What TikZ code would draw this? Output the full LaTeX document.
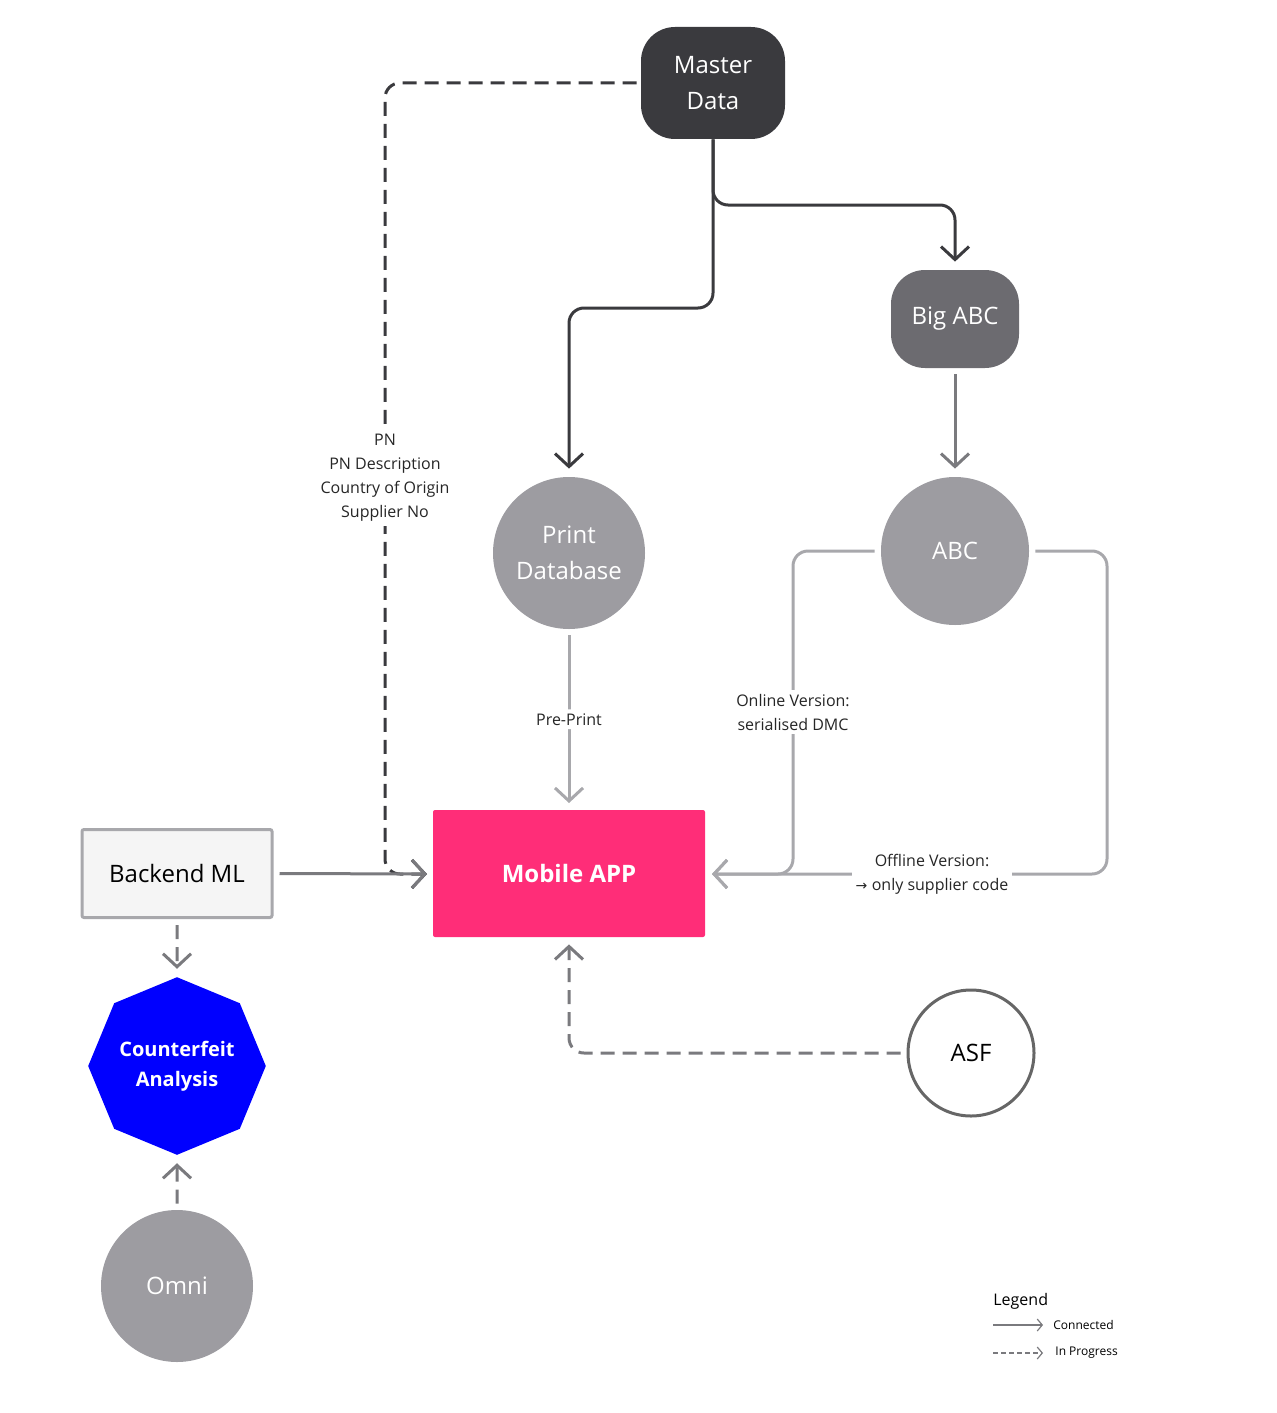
\documentclass[tikz,border=0pt]{standalone}
\usepackage{fontspec}
\setmainfont{Open Sans}
\usetikzlibrary{arrows.meta,positioning,shapes.geometric}
\definecolor{darkbox}{HTML}{3A3A3E}
\definecolor{midbox}{HTML}{6C6B70}
\definecolor{lightbox}{HTML}{9D9CA1}
\definecolor{pinkbox}{HTML}{FF2D78}
\definecolor{lineA}{HTML}{7A7A7E}
\definecolor{lineB}{HTML}{A8A8AC}
\tikzset{
  chev/.style={-{Straight Barb[length=6.5pt,width=14pt,line width=1.5pt]}},
  link/.style={chev,line width=1.5pt,rounded corners=7.5pt},
  dashedlink/.style={link,dash pattern=on 7pt off 4pt},
  roundbox/.style={rounded corners=17pt,text=white,align=center,font=\fontsize{12}{18}\selectfont},
  disc/.style={circle,fill=lightbox,text=white,align=center,font=\fontsize{12}{18}\selectfont},
  lbl/.style={fill=white,align=center,inner sep=2pt,font=\fontsize{8}{12}\selectfont,text=black!85}
}
\begin{document}
\begin{tikzpicture}[x=0.5pt,y=-0.5pt]
\useasboundingbox (0,0) rectangle (1276,1413);
% boxes
\node[roundbox,fill=darkbox,minimum width=72pt,minimum height=56pt] (master) at (713,83) {Master\\Data};
\node[roundbox,fill=midbox,minimum width=64pt,minimum height=49pt] (bigabc) at (955,319) {Big ABC};
\node[disc,minimum size=76pt] (print) at (569,553) {Print\\Database};
\node[disc,minimum size=74pt] (abc) at (955,551) {ABC};
\node[fill=pinkbox,text=white,font=\bfseries\fontsize{12}{14}\selectfont,minimum width=136pt,minimum height=63.5pt,rounded corners=1pt] (mobile) at (569,873.5) {Mobile APP};
\node[fill=black!4,draw=lineB,line width=1.5pt,font=\fontsize{12}{14}\selectfont,minimum width=95pt,minimum height=44pt,rounded corners=1pt] (backend) at (177,873.5) {Backend ML};
\node[regular polygon,regular polygon sides=8,shape border rotate=22.5,fill=blue,text=white,align=center,font=\bfseries\fontsize{10}{15}\selectfont,minimum size=88.8pt,inner sep=0pt] (fake) at (177,1066) {Counterfeit\\Analysis};
\node[disc,minimum size=76pt] (omni) at (177,1286) {Omni};
\node[circle,draw=black!60,line width=1.5pt,fill=white,font=\fontsize{12}{14}\selectfont,minimum size=63pt] (asf) at (971,1053) {ASF};

% connectors
\coordinate (mobW) at (427,874);
\coordinate (mobE) at (712,874);
\draw[link,draw=darkbox] (master.south) -- (713,308) -- (569,308) -- ([yshift=4pt]print.north);
\draw[link,draw=darkbox] (master.south) -- (713,205) -- (955,205) -- ([yshift=4pt]bigabc.north);
\draw[dashedlink,draw=darkbox] ([xshift=-2pt]master.west) -- (385,83) -- (385,874) -- (mobW);
\node[lbl] at (385,478) {PN\\PN Description\\Country of Origin\\Supplier No};
\draw[link,draw=lineA] ([yshift=-3pt]bigabc.south) -- ([yshift=4pt]abc.north);
\draw[link,draw=lineB] ([yshift=-3pt]print.south) -- (569,803) node[lbl,pos=0.5] {Pre-Print};
\draw[link,draw=lineB] ([xshift=-3pt]abc.west) -- (793,551) -- (793,874) -- (mobE);
\node[lbl] at (793,712) {Online Version:\\serialised DMC};
\draw[link,draw=lineB] ([xshift=3pt]abc.east) -- (1107,551) -- (1107,874) -- (mobE);
\node[lbl] at (932,874) {Offline Version:\\\fontspec{DejaVu Sans}\fontsize{7}{12}\selectfont→\ \fontspec{Open Sans}\fontsize{8}{12}\selectfont only supplier code};
\draw[link,draw=lineA] ([xshift=3pt]backend.east) -- (mobW);
\draw[dashedlink,draw=lineA] ([yshift=-3pt]backend.south) -- ([yshift=4pt]fake.north);
\draw[dashedlink,draw=lineA] ([yshift=3pt]omni.north) -- ([yshift=-4pt]fake.south);
\draw[dashedlink,draw=lineA] ([xshift=-3pt]asf.west) -- (569,1053) -- ([yshift=-3.5pt]mobile.south);

% legend
\node[anchor=west,font=\fontsize{8}{10}\selectfont,inner sep=0pt] (legend) at (993,1301) {Legend};
\coordinate (c1) at (993,1325);
\coordinate (c2) at (1043,1325);
\coordinate (p1) at (993,1353);
\coordinate (p2) at (1043,1353);
\draw[lineA,line width=0.6pt,-{Straight Barb[length=2.5pt,width=6pt]}] (c1) -- (c2);
\draw[lineA,line width=0.6pt,dash pattern=on 2.5pt off 1.5pt,-{Straight Barb[length=2.5pt,width=6pt]}] (p1) -- (p2);
\node[anchor=west,font=\fontsize{6}{8}\selectfont,inner sep=0pt] at (1053,1325) {Connected};
\node[anchor=west,font=\fontsize{6}{8}\selectfont,inner sep=0pt] at (1055,1353) {In Progress};
\end{tikzpicture}
\end{document}
